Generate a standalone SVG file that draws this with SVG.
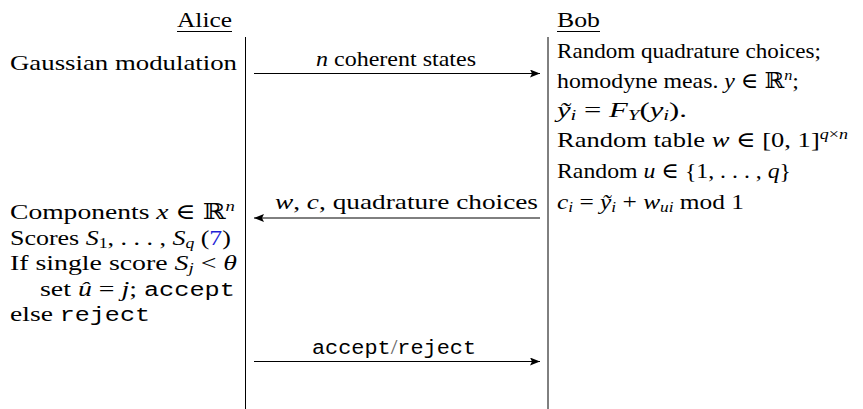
<svg xmlns="http://www.w3.org/2000/svg" width="863" height="409" viewBox="0 0 863 409">
<style>
.t{font-family:"Liberation Serif","DejaVu Serif",serif;font-size:22px;fill:#000}
.i{font-style:italic}
.m{font-family:"Liberation Mono","DejaVu Sans Mono",monospace;font-size:20px}
.s{font-size:15px}
.ln{stroke:#000;stroke-width:1;fill:none}
.lk{fill:#1f1fd6}
</style>
<defs>
<marker id="ah" viewBox="0 0 10 8" refX="10" refY="4" markerWidth="10" markerHeight="8" markerUnits="userSpaceOnUse" orient="auto">
<path d="M0,0 L10,4 L0,8 L2,4 Z" fill="#000"/>
</marker>
</defs>
<rect width="863" height="409" fill="#fff"/>

<g id="lifelines">
<line class="ln" x1="245.5" y1="37" x2="245.5" y2="409"/>
<line class="ln" x1="548" y1="37" x2="548" y2="409"/>
</g>

<g id="alice">
<text class="t" x="232" y="27" text-anchor="end" textLength="55" lengthAdjust="spacingAndGlyphs">Alice</text>
<line class="ln" x1="177" y1="31.5" x2="232" y2="31.5"/>
<text class="t" x="10" y="70" textLength="227" lengthAdjust="spacingAndGlyphs">Gaussian modulation</text>
<text class="t" x="10" y="219" textLength="225" lengthAdjust="spacingAndGlyphs">Components <tspan class="i">x</tspan> ∈ ℝ<tspan class="i s" dy="-8">n</tspan></text>
<text class="t" x="10" y="245" textLength="221" lengthAdjust="spacingAndGlyphs">Scores <tspan class="i">S</tspan><tspan class="s" dy="3">1</tspan><tspan dy="-3">, . . . , </tspan><tspan class="i">S</tspan><tspan class="i s" dy="3">q</tspan><tspan dy="-3"> (</tspan><tspan class="lk">7</tspan>)</text>
<text class="t" x="10" y="270" textLength="227" lengthAdjust="spacingAndGlyphs">If single score <tspan class="i">S</tspan><tspan class="i s" dy="3">j</tspan><tspan dy="-3"> &lt; </tspan><tspan class="i">θ</tspan></text>
<text class="t" x="40" y="296" textLength="195" lengthAdjust="spacingAndGlyphs">set <tspan class="i">û</tspan> = <tspan class="i">j</tspan>; <tspan class="m">accept</tspan></text>
<text class="t" x="10" y="321" textLength="140" lengthAdjust="spacingAndGlyphs">else <tspan class="m">reject</tspan></text>
</g>

<g id="bob">
<text class="t" x="557" y="27" textLength="43" lengthAdjust="spacingAndGlyphs">Bob</text>
<line class="ln" x1="557" y1="31.5" x2="600" y2="31.5"/>
<text class="t" x="557" y="58" textLength="264" lengthAdjust="spacingAndGlyphs">Random quadrature choices;</text>
<text class="t" x="557" y="88" textLength="242" lengthAdjust="spacingAndGlyphs">homodyne meas.  <tspan class="i">y</tspan> ∈ ℝ<tspan class="i s" dy="-8">n</tspan><tspan dy="8">;</tspan></text>
<text class="t" x="557" y="117" textLength="130" lengthAdjust="spacingAndGlyphs"><tspan class="i">ỹ</tspan><tspan class="i s" dy="3">i</tspan><tspan dy="-3"> = </tspan><tspan class="i">F</tspan><tspan class="i s" dy="3">Y</tspan><tspan dy="-3">(</tspan><tspan class="i">y</tspan><tspan class="i s" dy="3">i</tspan><tspan dy="-3">).</tspan></text>
<text class="t" x="557" y="147" textLength="291" lengthAdjust="spacingAndGlyphs">Random table <tspan class="i">w</tspan> ∈ [0, 1]<tspan class="i s" dy="-8">q</tspan><tspan class="s">×</tspan><tspan class="i s">n</tspan></text>
<text class="t" x="557" y="178" textLength="234" lengthAdjust="spacingAndGlyphs">Random <tspan class="i">u</tspan> ∈ {1, . . . , <tspan class="i">q</tspan>}</text>
<text class="t" x="557" y="209" textLength="187" lengthAdjust="spacingAndGlyphs"><tspan class="i">c</tspan><tspan class="i s" dy="3">i</tspan><tspan dy="-3"> = </tspan><tspan class="i">ỹ</tspan><tspan class="i s" dy="3">i</tspan><tspan dy="-3"> + </tspan><tspan class="i">w</tspan><tspan class="i s" dy="3">ui</tspan><tspan dy="-3"> mod 1</tspan></text>
</g>

<g id="connectors">
<line class="ln" x1="254" y1="73.5" x2="540" y2="73.5" marker-end="url(#ah)"/>
<text class="t" x="396" y="66" text-anchor="middle" textLength="160" lengthAdjust="spacingAndGlyphs"><tspan class="i">n</tspan> coherent states</text>
<line class="ln" x1="540" y1="218" x2="254" y2="218" marker-end="url(#ah)"/>
<text class="t" x="538" y="209" text-anchor="end" textLength="263" lengthAdjust="spacingAndGlyphs"><tspan class="i">w</tspan>, <tspan class="i">c</tspan>, quadrature choices</text>
<line class="ln" x1="254" y1="361.5" x2="540" y2="361.5" marker-end="url(#ah)"/>
<text class="t" x="394" y="354" text-anchor="middle" textLength="164" lengthAdjust="spacingAndGlyphs"><tspan class="m">accept</tspan><tspan fill="#666">/</tspan><tspan class="m">reject</tspan></text>
</g>
</svg>
